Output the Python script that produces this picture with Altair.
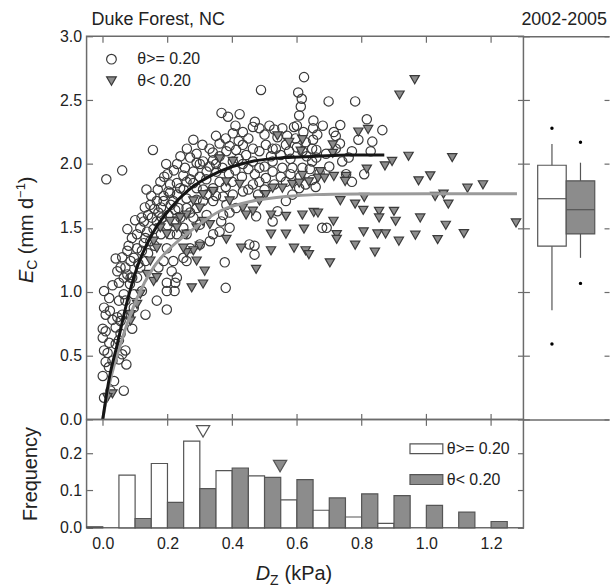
import altair as alt
import pandas as pd

# ---------------- data ----------------
groups = ["θ>= 0.20", "θ< 0.20"]

wet_pts = [
    (0.004, 0.17), (0.0, 0.34), (0.009, 0.45), (0.004, 0.54), (0.0, 0.64), (0.0, 0.71), (0.009, 0.69),
    (0.004, 0.875), (0.009, 0.82), (0.022, 0.85), (0.004, 1.005), (0.019, 0.41), (0.030, 0.46),
    (0.035, 0.30), (0.024, 0.225), (0.065, 0.225), (0.073, 0.43), (0.050, 0.47), (0.060, 0.51),
    (0.050, 0.62), (0.055, 0.67), (0.040, 0.72), (0.045, 0.80), (0.060, 0.82), (0.050, 0.93),
    (0.065, 0.98), (0.050, 1.07), (0.045, 1.16), (0.076, 1.135), (0.070, 1.19), (0.086, 1.11),
    (0.084, 1.06), (0.091, 0.71), (0.096, 0.875), (0.132, 0.82), (0.167, 0.93), (0.198, 0.86),
    (0.198, 1.005), (0.222, 1.005), (0.224, 1.07), (0.198, 1.07), (0.121, 1.005), (0.106, 1.11),
    (0.116, 1.19), (0.132, 1.24), (0.121, 1.32), (0.106, 1.34), (0.127, 1.38), (0.147, 1.395),
    (0.116, 1.50), (0.137, 1.47), (0.157, 1.49), (0.167, 1.55), (0.183, 1.58), (0.203, 1.60),
    (0.224, 1.64), (0.172, 1.62), (0.167, 1.71), (0.188, 1.75), (0.203, 1.785), (0.178, 1.86),
    (0.208, 1.84), (0.229, 1.85), (0.249, 1.91), (0.254, 1.97), (0.290, 2.01), (0.310, 2.02),
    (0.341, 2.03), (0.361, 2.06), (0.239, 1.81), (0.259, 1.73), (0.218, 1.71), (0.234, 1.655),
    (0.259, 1.655), (0.249, 1.50), (0.259, 1.45), (0.280, 1.58), (0.300, 1.525), (0.229, 1.45),
    (0.208, 1.45), (0.198, 1.34), (0.188, 1.24), (0.172, 1.19), (0.218, 1.24), (0.249, 1.265),
    (0.259, 1.24), (0.229, 1.11), (0.213, 1.16), (0.270, 1.34), (0.300, 1.37), (0.341, 1.45),
    (0.331, 1.395), (0.361, 1.47), (0.366, 1.55), (0.392, 1.62), (0.382, 1.68), (0.402, 1.76),
    (0.433, 1.785), (0.464, 1.84), (0.484, 1.86), (0.504, 1.89), (0.321, 1.76), (0.341, 1.81),
    (0.361, 1.86), (0.290, 1.81), (0.310, 1.71), (0.341, 1.71), (0.372, 1.745), (0.290, 1.655),
    (0.321, 1.60), (0.469, 1.36), (0.453, 1.37), (0.469, 1.29), (0.377, 1.23), (0.380, 1.03),
    (0.474, 1.59), (0.525, 1.55), (0.540, 1.63), (0.566, 1.71), (0.586, 1.76), (0.607, 1.81),
    (0.627, 1.84), (0.647, 1.875), (0.566, 1.86), (0.525, 1.94), (0.484, 1.97), (0.433, 2.00),
    (0.402, 2.02), (0.382, 2.10), (0.412, 2.11), (0.443, 2.07), (0.484, 2.10), (0.525, 2.12),
    (0.566, 2.15), (0.596, 2.20), (0.627, 2.17), (0.647, 2.12), (0.647, 2.02), (0.617, 1.97),
    (0.586, 1.97), (0.555, 1.97), (0.525, 2.02), (0.464, 2.02), (0.351, 1.94), (0.321, 1.94),
    (0.280, 1.94), (0.259, 1.86), (0.208, 1.775), (0.188, 1.71), (0.147, 1.68), (0.152, 1.58),
    (0.127, 1.55), (0.106, 1.45), (0.076, 1.49), (0.132, 1.42), (0.096, 1.265), (0.076, 1.32),
    (0.086, 1.24), (0.055, 1.19), (0.065, 1.11), (0.091, 1.11), (0.096, 0.98), (0.070, 0.93),
    (0.081, 0.82), (0.055, 0.77), (0.040, 0.59), (0.070, 0.54),
    (0.489, 2.58), (0.604, 2.56), (0.615, 2.51), (0.612, 2.45), (0.607, 2.38), (0.622, 2.68),
    (0.367, 2.40), (0.387, 2.37), (0.423, 2.39), (0.155, 2.11), (0.060, 1.95), (0.011, 1.88),
    (0.196, 2.00), (0.135, 1.80), (0.280, 2.19), (0.308, 2.15), (0.402, 2.24), (0.464, 2.29),
    (0.484, 2.28), (0.515, 2.30), (0.555, 2.28), (0.591, 2.29), (0.433, 2.25), (0.361, 2.16),
    (0.392, 2.14), (0.433, 2.15), (0.464, 2.12), (0.504, 2.15), (0.535, 2.12), (0.576, 2.10),
    (0.617, 2.10), (0.412, 1.655), (0.392, 1.50), (0.372, 1.60), (0.200, 1.92), (0.230, 2.00),
    (0.270, 2.05), (0.340, 2.09), (0.300, 2.00),
    (0.698, 2.49), (0.780, 2.49), (0.651, 2.34), (0.734, 2.305), (0.714, 2.25), (0.663, 2.23),
    (0.650, 2.19), (0.660, 2.11), (0.733, 2.16), (0.816, 2.35), (0.864, 2.265), (0.833, 2.175),
    (0.828, 2.10), (0.790, 2.19), (0.808, 1.92), (0.752, 1.92), (0.770, 1.86), (0.658, 1.82),
    (0.678, 1.50), (0.692, 1.50), (0.720, 2.22), (0.760, 2.05),
    (0.14, 1.60), (0.16, 1.65), (0.18, 1.66), (0.21, 1.68), (0.23, 1.76), (0.25, 1.80),
    (0.27, 1.88), (0.28, 1.85), (0.30, 1.90), (0.32, 1.88), (0.33, 1.98), (0.35, 2.00),
    (0.37, 1.97), (0.39, 1.92), (0.41, 1.95), (0.42, 2.04), (0.45, 1.96), (0.47, 1.92),
    (0.50, 1.98), (0.52, 2.06), (0.55, 2.07), (0.58, 2.04), (0.60, 2.13), (0.63, 2.06),
    (0.66, 2.05), (0.69, 2.08), (0.70, 1.98), (0.72, 2.12), (0.74, 2.02), (0.77, 2.10),
    (0.68, 2.30), (0.62, 2.25), (0.57, 2.22), (0.54, 2.21), (0.50, 2.23), (0.45, 2.20),
    (0.42, 2.18), (0.38, 2.20), (0.35, 2.22), (0.33, 2.12), (0.29, 2.08), (0.26, 2.12),
    (0.24, 2.06), (0.22, 1.95), (0.19, 1.90), (0.17, 1.80), (0.15, 1.75), (0.13, 1.66),
    (0.12, 1.58), (0.10, 1.56), (0.09, 1.42), (0.08, 1.36), (0.06, 1.27), (0.04, 1.26),
    (0.03, 1.05), (0.02, 0.95), (0.03, 0.78), (0.02, 0.60), (0.015, 0.52), (0.11, 1.22),
    (0.14, 1.30), (0.16, 1.36), (0.18, 1.45), (0.20, 1.52), (0.22, 1.55), (0.24, 1.58),
    (0.27, 1.62), (0.29, 1.72), (0.31, 1.80), (0.35, 1.75), (0.38, 1.82), (0.40, 1.86),
    (0.43, 1.90), (0.45, 1.80), (0.48, 1.76), (0.50, 1.80), (0.53, 1.84), (0.55, 1.90),
    (0.58, 1.92), (0.61, 1.90), (0.64, 1.96), (0.67, 1.93), (0.53, 2.27), (0.47, 2.33),
    (0.41, 2.30), (0.60, 2.30), (0.65, 2.28),
]

dry_pts = [
    (0.540, 2.22), (0.576, 2.17), (0.617, 2.19), (0.612, 2.10), (0.361, 2.04), (0.402, 2.02),
    (0.280, 1.71), (0.300, 1.655), (0.259, 1.60), (0.239, 1.58), (0.208, 1.55), (0.178, 1.50),
    (0.198, 1.45), (0.229, 1.50), (0.290, 1.50), (0.310, 1.55), (0.331, 1.525), (0.259, 1.45),
    (0.157, 1.395), (0.167, 1.34), (0.147, 1.24), (0.137, 1.135), (0.157, 1.08), (0.167, 1.11),
    (0.116, 0.98), (0.106, 0.90), (0.086, 0.82), (0.086, 0.77), (0.030, 0.20), (0.014, 0.17),
    (0.382, 1.41), (0.428, 1.34), (0.474, 1.175), (0.315, 1.16), (0.310, 1.06), (0.275, 1.03),
    (0.290, 1.24), (0.280, 1.32), (0.300, 1.356), (0.259, 1.305), (0.249, 1.34), (0.464, 1.63),
    (0.433, 1.655), (0.392, 1.71), (0.443, 1.60), (0.484, 1.71), (0.504, 1.76), (0.525, 1.81),
    (0.555, 1.81), (0.586, 1.84), (0.617, 1.91), (0.637, 1.86), (0.520, 1.60), (0.566, 1.59),
    (0.617, 1.60), (0.652, 1.62), (0.520, 1.45), (0.566, 1.45), (0.622, 1.49), (0.520, 1.32),
    (0.591, 1.34), (0.627, 1.32), (0.637, 1.29), (0.382, 1.86), (0.423, 1.84), (0.341, 1.785),
    (0.310, 1.76),
    (0.964, 2.66), (0.917, 2.54), (0.945, 2.06), (1.080, 2.05), (0.894, 2.02), (0.872, 1.985),
    (0.820, 2.27), (0.790, 2.25), (0.816, 1.96), (1.012, 1.907), (0.976, 1.868), (1.175, 1.837),
    (1.127, 1.81), (1.277, 1.538), (1.027, 1.746), (1.053, 1.764), (1.068, 1.686), (1.060, 1.52),
    (1.116, 1.455), (1.035, 1.408), (0.981, 1.577), (0.966, 1.442), (0.915, 1.395), (0.900, 1.629),
    (0.905, 1.551), (0.854, 1.629), (0.854, 1.577), (0.849, 1.452), (0.874, 1.452), (0.806, 1.468),
    (0.780, 1.364), (0.841, 1.309), (0.805, 1.637), (0.808, 1.738), (0.780, 1.686), (0.734, 1.712),
    (0.713, 1.551), (0.723, 1.447), (0.723, 1.41), (0.702, 1.226), (0.665, 1.616), (0.672, 1.94),
    (0.665, 1.889), (0.685, 1.889), (0.714, 1.902), (0.752, 1.902), (0.749, 1.863), (0.607, 1.85),
    (0.711, 2.149), (0.711, 2.083),
]

fit_wet_D = [0.0, 0.02, 0.045, 0.076, 0.106, 0.157, 0.21, 0.26, 0.36, 0.46, 0.56, 0.66, 0.76, 0.87]
fit_wet_E = [0.0, 0.32, 0.59, 0.93, 1.19, 1.47, 1.655, 1.785, 1.94, 2.02, 2.05, 2.06, 2.07, 2.07]
fit_dry_D = [0.0, 0.014, 0.055, 0.106, 0.157, 0.208, 0.259, 0.361, 0.464, 0.566, 0.657, 0.8, 1.0, 1.28]
fit_dry_E = [0.0, 0.2, 0.59, 0.95, 1.19, 1.34, 1.45, 1.63, 1.71, 1.745, 1.76, 1.765, 1.767, 1.767]

bin_center = [0.0, 0.1, 0.2, 0.3, 0.4, 0.5, 0.6, 0.7, 0.8, 0.9, 1.0, 1.1, 1.2]
freq_wet = [0.003, 0.141, 0.172, 0.232, 0.153, 0.139, 0.075, 0.047, 0.029, 0.012, 0.0, 0.0, 0.0]
freq_dry = [0.0, 0.025, 0.068, 0.105, 0.160, 0.135, 0.129, 0.080, 0.091, 0.086, 0.060, 0.042, 0.017]
bin_half = 0.05

median_D = [0.31, 0.548]
median_F = [0.258, 0.165]

box_pos = [1, 2]
box_q1 = [1.356, 1.452]
box_med = [1.728, 1.642]
box_q3 = [1.99, 1.868]
box_wlo = [0.855, 1.265]
box_whi = [2.157, 2.01]
box_plo = [0.59, 1.065]
box_phi = [2.28, 2.17]

x_ticks = [0.0, 0.2, 0.4, 0.6, 0.8, 1.0, 1.2]
y_ticks = [0.0, 0.5, 1.0, 1.5, 2.0, 2.5, 3.0]
f_ticks = [0.0, 0.1, 0.2]

# ---------------- style ----------------
W, H = 439, 385
BW = 86
HH = 109
FRAME = "#6b6b6b"
INK = "#222222"
EDGE = "#555555"
GREY = "#8c8c8c"
FONT = "Liberation Sans"
fill_map = {groups[0]: "white", groups[1]: GREY}

xsc = alt.Scale(domain=[-0.05, 1.3], nice=False, zero=False)
ysc = alt.Scale(domain=[0.0, 3.0], nice=False, zero=False)
hys = alt.Scale(domain=[0.0, 0.29], nice=False, zero=False)
bxs = alt.Scale(domain=[0, 3], nice=False, zero=False)


def ax(orient, values, size, off, labels=False, **kw):
    opts = dict(orient=orient, values=values, tickSize=size, offset=-off, labels=labels,
                domain=False, grid=False, tickColor=FRAME, tickWidth=1.2)
    if labels:
        opts.update(format=".1f", labelFont=FONT, labelFontSize=16, labelColor=INK, labelPadding=5)
    opts.update(kw)
    if "title" not in opts:
        opts["title"] = None
    return alt.Axis(**opts)


def frame_axis(orient):
    return alt.Axis(orient=orient, domain=True, domainColor=FRAME, domainWidth=1.5, ticks=False,
                    labels=False, grid=False, title=None)


def txt(text, x, y, size, angle=0, style="normal", align="left"):
    kw = dict(text=text, font=FONT, fontSize=size, fontStyle=style, align=align,
              baseline="alphabetic", color=INK)
    if angle:
        kw["angle"] = angle
    return alt.Chart(pd.DataFrame({"t": [text]})).mark_text(**kw).encode(
        x=alt.value(x), y=alt.value(y))


def anchor(x, y):
    return alt.Chart(pd.DataFrame({"a": [0]})).mark_rule(color="white", strokeWidth=1).encode(
        x=alt.value(x), x2=alt.value(x + 1), y=alt.value(y), y2=alt.value(y))


# ---------------- main scatter panel ----------------
pts = pd.DataFrame({
    "D": [p[0] for p in wet_pts] + [p[0] for p in dry_pts],
    "E": [p[1] for p in wet_pts] + [p[1] for p in dry_pts],
    "g": [groups[0]] * len(wet_pts) + [groups[1]] * len(dry_pts),
})

leg_sc = alt.Legend(title=None, orient="none", legendX=17, legendY=15, labelFont=FONT,
                    labelFontSize=16, labelColor=INK, symbolSize=95, symbolStrokeColor="#3a3a3a",
                    symbolFillColor="white", symbolStrokeWidth=1.2, labelOffset=18, rowPadding=6,
                    padding=0)

scatter = alt.Chart(pts).mark_point(filled=True, size=88, stroke="#3a3a3a", strokeWidth=1.2,
                                    opacity=1).encode(
    x=alt.X("D:Q", scale=xsc, axis=ax("bottom", x_ticks, 6, 6)),
    y=alt.Y("E:Q", scale=ysc, axis=ax("left", y_ticks, 6, 6, labels=True)),
    shape=alt.Shape("g:N", scale=alt.Scale(domain=groups, range=["circle", "triangle-down"]),
                    legend=leg_sc),
    color=alt.Color("g:N", scale=alt.Scale(domain=groups, range=["transparent", GREY]),
                    legend=leg_sc),
)

line_dry = alt.Chart(pd.DataFrame({"D": fit_dry_D, "E": fit_dry_E})).mark_line(
    color="#9a9a9a", strokeWidth=3, interpolate="monotone", clip=True).encode(
    x=alt.X("D:Q", scale=xsc, axis=None), y=alt.Y("E:Q", scale=ysc, axis=None))

line_wet = alt.Chart(pd.DataFrame({"D": fit_wet_D, "E": fit_wet_E})).mark_line(
    color="#151515", strokeWidth=3, interpolate="monotone", clip=True).encode(
    x=alt.X("D:Q", scale=xsc, axis=ax("top", x_ticks, 6, 6)),
    y=alt.Y("E:Q", scale=ysc, axis=ax("right", y_ticks, 12, 6)))

main = alt.layer(
    anchor(-85.5, -33.5), scatter, line_dry, line_wet,
    txt("Duke Forest, NC", 5, -11, 18),
    txt("E", -54, 248, 20, angle=270, style="italic"),
    txt("C", -50, 234.7, 14, angle=270),
    txt("(mm d", -54, 219, 20, angle=270),
    txt("\u22121", -62, 162.4, 13, angle=270),
    txt(")", -54, 147.6, 20, angle=270),
).resolve_axis(x="independent", y="independent").properties(width=W, height=H)

# ---------------- box panel ----------------
box_df = pd.DataFrame({"p": box_pos, "q1": box_q1, "med": box_med, "q3": box_q3,
                       "wlo": box_wlo, "whi": box_whi, "plo": box_plo, "phi": box_phi,
                       "g": groups})
box_df["fc"] = box_df["g"].map(fill_map)
bbase = alt.Chart(box_df).transform_calculate(x1="datum.p - 0.5", x2="datum.p + 0.5")

whisk = bbase.mark_rule(color=EDGE, strokeWidth=1.2).encode(
    x=alt.X("p:Q", scale=bxs, axis=frame_axis("bottom")),
    y=alt.Y("wlo:Q", scale=ysc, axis=ax("right", y_ticks, 5, 5)), y2="whi:Q")
boxes = bbase.mark_bar(stroke=EDGE, strokeWidth=1.2).encode(
    x=alt.X("x1:Q", scale=bxs, axis=frame_axis("top")), x2="x2:Q",
    y=alt.Y("q1:Q", scale=ysc, axis=None), y2="q3:Q",
    fill=alt.Fill("fc:N", scale=None))
meds = bbase.mark_rule(color=EDGE, strokeWidth=1.2).encode(
    x=alt.X("x1:Q", scale=bxs, axis=None), x2="x2:Q", y=alt.Y("med:Q", scale=ysc, axis=None))
dots_hi = bbase.mark_circle(color="black", size=12, opacity=1).encode(
    x=alt.X("p:Q", scale=bxs, axis=None), y=alt.Y("phi:Q", scale=ysc, axis=None))
dots_lo = bbase.mark_circle(color="black", size=12, opacity=1).encode(
    x=alt.X("p:Q", scale=bxs, axis=None), y=alt.Y("plo:Q", scale=ysc, axis=None))

box = alt.layer(
    whisk, boxes, meds, dots_hi, dots_lo, txt("2002-2005", 84, -11, 18, align="right")
).resolve_axis(x="independent", y="independent").properties(
    width=BW, height=H, view=alt.ViewBackground(stroke="transparent"))

# ---------------- histogram panel ----------------
rows = []
for c, w, d in zip(bin_center, freq_wet, freq_dry):
    if w > 0:
        rows.append({"x1": round(c - bin_half, 3), "x2": c, "F": w, "g": groups[0]})
    if d > 0:
        rows.append({"x1": c, "x2": round(c + bin_half, 3), "F": d, "g": groups[1]})
hist_df = pd.DataFrame(rows)

leg_h = alt.Legend(title=None, orient="none", legendX=324, legendY=12,
                   symbolType="M-1,-0.3H1V0.3H-1Z", symbolSize=1089, symbolStrokeColor=EDGE,
                   symbolStrokeWidth=1.2, labelFont=FONT, labelFontSize=16, labelColor=INK,
                   labelOffset=3, rowPadding=5, padding=0)

bars = alt.Chart(hist_df).mark_bar(stroke=EDGE, strokeWidth=1.2).encode(
    x=alt.X("x1:Q", scale=xsc, axis=alt.Axis(
        orient="bottom", values=x_ticks, format=".1f", ticks=False, tickSize=0, domain=False,
        grid=False, labelPadding=8, labelFont=FONT, labelFontSize=16, labelColor=INK,
        title=None)),
    x2="x2:Q",
    y=alt.Y("F:Q", scale=hys, axis=ax("left", f_ticks, 6, 6, labels=True, title="Frequency",
                                      titleFont=FONT, titleFontSize=20,
                                      titleFontWeight="normal", titleColor=INK,
                                      titlePadding=19)),
    y2=alt.datum(0),
    color=alt.Color("g:N", scale=alt.Scale(domain=groups, range=["white", GREY]), legend=leg_h),
)

med_df = pd.DataFrame({"D": median_D, "F": median_F, "g": groups})
med_df["fc"] = med_df["g"].map(fill_map)
med_marks = alt.Chart(med_df).mark_point(shape="triangle-down", filled=True, size=180,
                                         stroke=EDGE, strokeWidth=1.2, opacity=1).encode(
    x=alt.X("D:Q", scale=xsc, axis=ax("top", x_ticks, 6, 6)),
    y=alt.Y("F:Q", scale=hys, axis=ax("right", f_ticks, 6, 6)),
    fill=alt.Fill("fc:N", scale=None),
)

hist = alt.layer(
    anchor(-85.5, 50), bars, med_marks,
    txt("D", 170, 161, 20, style="italic"),
    txt("Z", 184.4, 166, 14),
    txt("(kPa)", 199, 161, 20),
).resolve_axis(x="independent", y="independent").properties(width=W, height=HH)

chart = alt.concat(main, box, hist, columns=2, spacing=0, bounds="flush").resolve_scale(
    x="independent", y="independent", fill="independent", color="independent",
    shape="independent").properties(padding=0, background="white").configure_view(
    stroke=FRAME, strokeWidth=1.5)

chart.save("out.html", embed_options={"renderer": "svg", "actions": False})
